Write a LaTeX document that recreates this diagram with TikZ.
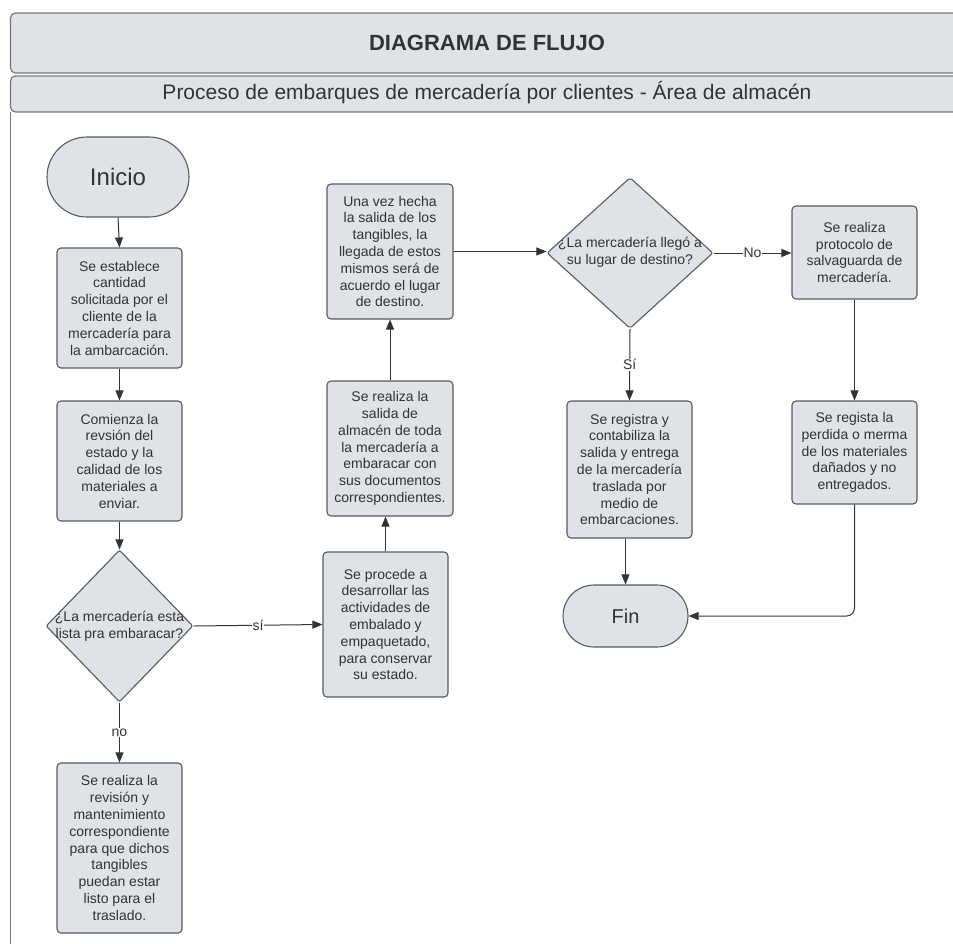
\documentclass[tikz,border=0pt]{standalone}
\usepackage{fontspec}
\setmainfont{Liberation Sans}
\usetikzlibrary{shapes.geometric,shapes.misc,arrows.meta}
\definecolor{boxfill}{HTML}{DFE2E7}
\definecolor{boxline}{HTML}{5A5A5A}
\definecolor{inkgray}{HTML}{333333}
\definecolor{bandline}{HTML}{777777}
\tikzset{
  proc/.style={rectangle, rounded corners=4pt, draw=boxline, line width=1.1pt,
    fill=boxfill, align=center, text=inkgray, inner sep=0pt,
    font=\fontsize{14}{16.8}\selectfont},
  term/.style={rounded rectangle, draw=boxline, line width=1.1pt, fill=boxfill,
    text=inkgray, inner sep=0pt},
  decision/.style={diamond, draw=boxline, line width=1.1pt, fill=boxfill,
    inner sep=0pt, rounded corners=2pt},
  dtext/.style={align=center, text=inkgray, inner sep=0pt,
    font=\fontsize{14}{16.8}\selectfont},
  conn/.style={draw=inkgray, line width=1pt, -{Triangle[length=10pt,width=8pt]}},
  lab/.style={fill=white, inner sep=1pt, text=inkgray,
    font=\fontsize{14}{16}\selectfont},
  band/.style={draw=bandline, line width=1.2pt, fill=boxfill},
}
\begin{document}
\begin{tikzpicture}[x=1pt,y=-1pt]
\useasboundingbox (0,0) rectangle (953,943);
\clip (0,0) rectangle (953,943);

% header bands and left pool border
\draw[band, rounded corners=5pt] (10.5,13) rectangle (980,73);
\draw[band, rounded corners=5pt] (10.5,76) rectangle (980,112);
\draw[draw=bandline, line width=1.2pt] (10.5,112) -- (10.5,960);
\node[text=inkgray, font=\fontsize{22}{26}\selectfont\bfseries] (title) at (487,43) {DIAGRAMA DE FLUJO};
\node[text=inkgray, font=\fontsize{21}{25}\selectfont] (subtitle) at (487,93)
  {Proceso de embarques de mercadería por clientes - Área de almacén};

% left column
\node[term, minimum width=142pt, minimum height=80pt, font=\fontsize{24}{28}\selectfont] (inicio) at (118,177) {Inicio};
\node[proc, minimum width=125pt, minimum height=120pt] (b1) at (119.5,308)
  {Se establece\\cantidad\\solicitada por el\\cliente de la\\mercadería para\\la ambarcación.};
\node[proc, minimum width=125pt, minimum height=120pt] (b2) at (119.5,461)
  {Comienza la\\revsión del\\estado y la\\calidad de los\\materiales a\\enviar.};
\node[decision, minimum width=147pt, minimum height=152pt] (d1) at (119.5,626) {};
\node[dtext] (d1t) at (d1) {¿La mercadería esta\\lista pra embaracar?};
\node[proc, minimum width=125pt, minimum height=170pt] (bno) at (119.5,848)
  {Se realiza la\\revisión y\\mantenimiento\\correspondiente\\para que dichos\\tangibles\\puedan estar\\listo para el\\traslado.};

% middle column
\node[proc, minimum width=125pt, minimum height=145pt] (b3) at (385.5,624.5)
  {Se procede a\\desarrollar las\\actividades de\\embalado y\\empaquetado,\\para conservar\\su estado.};
\node[proc, minimum width=126pt, minimum height=135pt] (b4) at (390,448.5)
  {Se realiza la\\salida de\\almacén de toda\\la mercadería a\\embaracar con\\sus documentos\\correspondientes.};
\node[proc, minimum width=126pt, minimum height=135pt] (b5) at (390,251.5)
  {Una vez hecha\\la salida de los\\tangibles, la\\llegada de estos\\mismos será de\\acuerdo el lugar\\de destino.};

% right columns
\node[decision, minimum width=166pt, minimum height=151pt] (d2) at (630,253) {};
\node[dtext] (d2t) at (630,252) {¿La mercadería llegó a\\su lugar de destino?};
\node[proc, minimum width=125pt, minimum height=93pt] (b6) at (854.5,252.5)
  {Se realiza\\protocolo de\\salvaguarda de\\mercadería.};
\node[proc, minimum width=125pt, minimum height=137pt] (b7) at (629.5,469.5)
  {Se registra y\\contabiliza la\\salida y entrega\\de la mercadería\\traslada por\\medio de\\embarcaciones.};
\node[proc, minimum width=125pt, minimum height=103pt] (b8) at (854.5,452.5)
  {Se regista la\\perdida o merma\\de los materiales\\dañados y no\\entregados.};
\node[term, minimum width=125pt, minimum height=62pt, font=\fontsize{20}{24}\selectfont] (fin) at (625.5,616) {Fin};

% connectors
\draw[conn] (inicio.south) -- (b1.north);
\draw[conn] (b1) -- (b2);
\draw[conn] (b2) -- (d1);
\draw[conn] (d1.east) -- node[lab] (lsi) {sí} (b3.west);
\draw[conn] (d1.south) -- node[lab] (lno) {no} (bno.north);
\draw[conn] (b3.north) -- (b3.north |- b4.south);
\draw[conn] (b4.north) -- (b5.south);
\draw[conn] (b5.east) -- (b5.east -| d2.west);
\draw[conn] (d2.east) -- node[lab] (lNo) {No} (d2.east -| b6.west);
\draw[conn] (d2.south) -- node[lab] (lSi) {Sí} (b7.north);
\draw[conn] (b6.south) -- (b8.north);
\draw[conn] (b7.south -| fin.north) -- (fin.north);
\draw[conn, rounded corners=8pt] (b8.south) |- (fin.east);
\end{tikzpicture}
\end{document}
